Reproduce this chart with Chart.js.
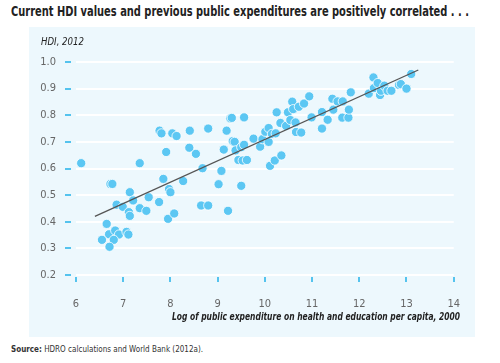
<!DOCTYPE html>
<html>
<head>
<meta charset="utf-8">
<script src="https://cdn.jsdelivr.net/npm/chart.js@4/dist/chart.umd.min.js"></script>
<style>
  body { margin: 0; width: 500px; height: 363px; background: #fff; position: relative; overflow: hidden;
         font-family: "DejaVu Sans Condensed", "DejaVu Sans", sans-serif; }
  .fit { position: absolute; white-space: nowrap; transform-origin: left center; }
  #title { left: 11px; top: 3px; font-size: 13.5px; font-weight: bold; color: #222; }
  #panel { position: absolute; left: 29px; top: 27px; width: 446px; height: 310px; background: #edf8fd; }
  #wrap { position: absolute; left: 0; top: 0; width: 446px; height: 310px; }
  #ylabel { left: 12px; top: 8px; font-size: 11px; font-style: italic; color: #222; }
  #xlabel { left: 143px; top: 283px; font-size: 11px; font-style: italic; font-weight: bold; color: #222; }
  #source { left: 11px; top: 343px; font-size: 9.5px; color: #333; }
</style>
</head>
<body>
<div id="title" class="fit" data-w="458">Current HDI values and previous public expenditures are positively correlated . . .</div>
<div id="panel">
  <div id="wrap"><canvas id="chart"></canvas></div>
  <div id="ylabel" class="fit" data-w="43">HDI, 2012</div>
  <div id="xlabel" class="fit" data-w="288">Log of public expenditure on health and education per capita, 2000</div>
</div>
<div id="source" class="fit" data-w="192"><b>Source:</b> HDRO calculations and World Bank (2012a).</div>
<script>
// log public expenditure per capita, 2000
const expenditure = [
  6.11, 7.35, 7.77, 7.81, 8.04, 8.13, 8.41, 7.91, 8.40, 8.54,
  6.73, 6.77, 7.85, 8.27, 7.97, 7.14, 8.00, 6.86, 6.99, 7.21,
  7.54, 7.76, 7.35, 7.49, 7.12, 7.14, 7.95, 8.08, 6.65, 6.70,
  6.83, 6.91, 7.07, 7.11, 6.55, 6.80, 6.71, 8.65, 8.80, 9.22,
  9.02, 9.08, 9.50, 8.68, 8.80, 9.19, 9.27, 9.30, 9.56, 9.13,
  9.32, 9.36, 9.38, 9.50, 9.56, 9.76, 9.90, 9.95, 10.01, 10.08,
  10.08, 10.15, 10.23, 10.25, 10.33, 10.45, 10.49, 10.54, 10.58, 10.60,
  10.65, 10.66, 10.72, 10.77, 10.83, 10.94, 10.99, 9.44, 9.53, 9.62,
  10.11, 10.21, 10.35, 11.21, 11.21, 11.33, 11.43, 11.45, 11.54, 11.65,
  11.64, 11.77, 11.78, 11.82, 12.20, 12.30, 12.31, 12.39, 12.44, 12.46,
  12.53, 12.60, 12.68, 12.84, 12.88, 13.00, 13.10
];
// HDI 2012
const hdi = [
  0.620, 0.620, 0.742, 0.732, 0.732, 0.722, 0.742, 0.662, 0.678, 0.655,
  0.542, 0.542, 0.561, 0.553, 0.523, 0.511, 0.511, 0.464, 0.456, 0.480,
  0.492, 0.474, 0.451, 0.441, 0.436, 0.422, 0.411, 0.431, 0.392, 0.353,
  0.367, 0.352, 0.362, 0.352, 0.332, 0.332, 0.306, 0.461, 0.461, 0.441,
  0.541, 0.591, 0.535, 0.601, 0.750, 0.742, 0.788, 0.790, 0.792, 0.671,
  0.703, 0.700, 0.668, 0.680, 0.689, 0.712, 0.682, 0.710, 0.738, 0.752,
  0.700, 0.730, 0.732, 0.811, 0.771, 0.760, 0.811, 0.782, 0.851, 0.823,
  0.773, 0.737, 0.832, 0.735, 0.844, 0.871, 0.792, 0.632, 0.630, 0.632,
  0.610, 0.630, 0.649, 0.812, 0.750, 0.783, 0.862, 0.821, 0.852, 0.852,
  0.791, 0.791, 0.821, 0.886, 0.881, 0.942, 0.902, 0.921, 0.876, 0.892,
  0.911, 0.892, 0.892, 0.914, 0.917, 0.900, 0.955
];
// fitted line end points
const trendX = [6.4, 13.25];
const trendY = [0.42, 0.97];

const xTicks = [6, 7, 8, 9, 10, 11, 12, 13, 14];
const yTicks = [0.2, 0.3, 0.4, 0.5, 0.6, 0.7, 0.8, 0.9, 1.0];

const FONT = '"DejaVu Sans Condensed", "DejaVu Sans", sans-serif';
const TICK_BLUE = '#22b2e8';

// squeeze the html labels to the narrow width of the original typeface
document.querySelectorAll('.fit').forEach(el => {
  const w = el.getBoundingClientRect().width;
  el.style.transform = `scaleX(${el.dataset.w / w})`;
});

// small blue tick dashes outside the plot area
const tickMarks = {
  id: 'tickMarks',
  afterDraw(chart) {
    const { ctx, chartArea, scales } = chart;
    ctx.save();
    ctx.strokeStyle = TICK_BLUE;
    ctx.lineWidth = 1.5;
    xTicks.forEach(v => {
      const px = Math.round(scales.x.getPixelForValue(v));
      ctx.beginPath();
      ctx.moveTo(px, chartArea.bottom + 2);
      ctx.lineTo(px, chartArea.bottom + 7);
      ctx.stroke();
    });
    yTicks.forEach(v => {
      const py = Math.round(scales.y.getPixelForValue(v));
      ctx.beginPath();
      ctx.moveTo(chartArea.left - 11, py);
      ctx.lineTo(chartArea.left - 5, py);
      ctx.stroke();
    });
    ctx.restore();
  }
};

const ctx = document.getElementById('chart').getContext('2d');
new Chart(ctx, {
  data: {
    datasets: [
      {
        type: 'line',
        data: trendX.map((x, i) => ({ x, y: trendY[i] })),
        borderColor: '#555',
        borderWidth: 1.3,
        pointRadius: 0,
        fill: false,
        order: 0
      },
      {
        type: 'scatter',
        data: expenditure.map((x, i) => ({ x, y: hdi[i] })),
        backgroundColor: '#5cc7f3',
        borderColor: '#ffffff',
        borderWidth: 0.8,
        pointRadius: 4.6,
        order: 1
      }
    ]
  },
  options: {
    responsive: true,
    maintainAspectRatio: false,
    animation: false,
    layout: { padding: { left: 0, right: 19, top: 35, bottom: 0 } },
    plugins: { legend: { display: false }, tooltip: { enabled: false } },
    scales: {
      x: {
        type: 'linear',
        min: 6, max: 14,
        afterBuildTicks: s => { s.ticks = xTicks.map(value => ({ value })); },
        afterFit: s => { s.height = 62; },
        grid: { display: false },
        border: { display: false },
        ticks: { padding: 15, color: '#666', font: { family: FONT, size: 11 } }
      },
      y: {
        type: 'linear',
        min: 0.2, max: 1.0,
        afterBuildTicks: s => { s.ticks = yTicks.map(value => ({ value })); },
        afterFit: s => { s.width = 47; },
        grid: { color: '#ffffff', lineWidth: 2, drawTicks: false },
        border: { display: false },
        ticks: {
          padding: 20, color: '#666', font: { family: FONT, size: 11 },
          callback: v => v.toFixed(1)
        }
      }
    }
  },
  plugins: [tickMarks]
});
</script>
</body>
</html>
